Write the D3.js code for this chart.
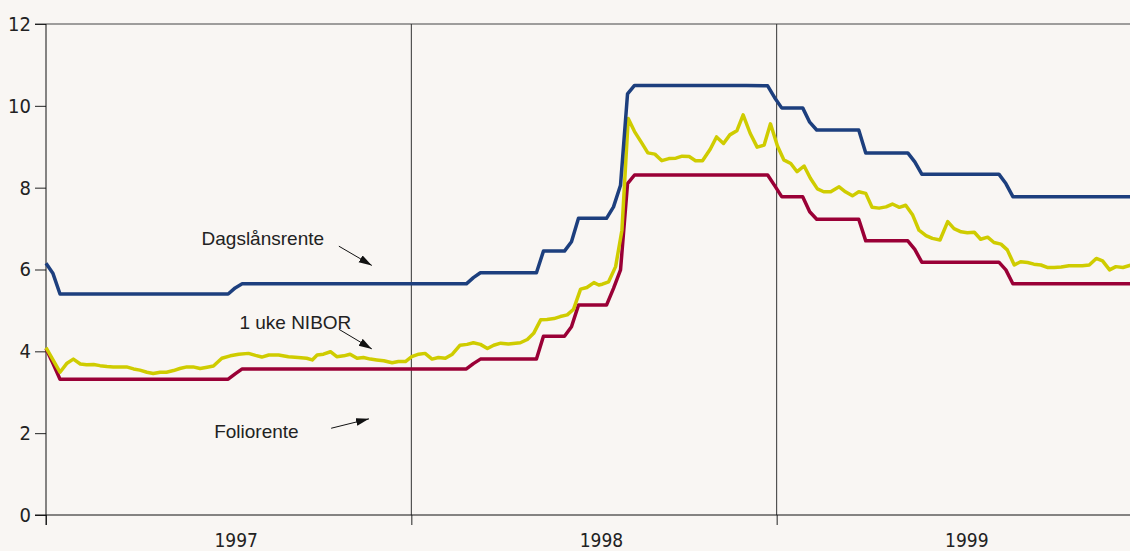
<!DOCTYPE html>
<html>
<head>
<meta charset="utf-8">
<script src="https://cdn.jsdelivr.net/npm/d3@7"></script>
<style>
  body { margin: 0; background: #f9f6f3; }
  svg { display: block; }
  .tick text { font-family: "Liberation Sans Narrow", "DejaVu Sans Condensed", sans-serif; font-stretch: condensed; font-size: 20px; fill: #222; }
  .year { font-family: "Liberation Sans Narrow", "DejaVu Sans Condensed", sans-serif; font-stretch: condensed; font-size: 19px; fill: #222; }
  .lbl { font-family: "Liberation Sans", Arial, sans-serif; font-size: 19px; fill: #222; }
</style>
</head>
<body>
<div id="chart"></div>
<script>
"use strict"

// weeks since 1 Jan 1997, rate in percent
const dagslanrente = [
  [0, 6.15], [1, 5.9], [2, 5.4], [26, 5.4], [27, 5.55], [28, 5.65],
  [60, 5.65], [61, 5.8], [62, 5.92], [70, 5.92], [71, 6.45], [74, 6.45],
  [75, 6.68], [76, 7.25], [80, 7.25], [81, 7.53], [82, 8.06], [83, 10.29],
  [84, 10.5], [100, 10.5], [103, 10.49], [104, 10.2], [105, 9.95], [108, 9.95],
  [109, 9.6], [110, 9.41], [116, 9.41], [117, 8.85], [123, 8.85], [124, 8.63],
  [125, 8.33], [136, 8.33], [137, 8.1], [138, 7.78], [155, 7.78]
];

const foliorente = [
  [0, 4.07], [1, 3.7], [2, 3.32], [26, 3.32], [27, 3.45], [28, 3.57],
  [60, 3.57], [61, 3.7], [62, 3.81], [70, 3.81], [71, 4.37], [74, 4.37],
  [75, 4.6], [76, 5.13], [80, 5.13], [81, 5.54], [82, 5.99], [83, 8.1],
  [84, 8.31], [103, 8.31], [104, 8.05], [105, 7.78], [108, 7.78], [109, 7.41],
  [110, 7.23], [116, 7.23], [117, 6.7], [123, 6.7], [124, 6.49], [125, 6.18],
  [136, 6.18], [137, 5.99], [138, 5.65], [155, 5.65]
];

const nibor1uke = [
  [0, 4.09], [2, 3.49], [3, 3.71], [3.9, 3.81], [4.9, 3.69], [5.8, 3.67],
  [6.8, 3.68], [7.7, 3.65], [8.7, 3.63], [9.6, 3.62], [11.5, 3.62], [12.5, 3.57],
  [13.4, 3.54], [14.4, 3.49], [15.3, 3.46], [16.3, 3.49], [17.2, 3.49], [18.2, 3.53],
  [19.1, 3.58], [20.1, 3.62], [21, 3.62], [22, 3.58], [23, 3.61], [23.9, 3.64],
  [25.1, 3.83], [26.3, 3.89], [27.5, 3.93], [28.9, 3.95], [29.9, 3.9], [30.8, 3.86],
  [31.8, 3.91], [33.2, 3.91], [34.6, 3.87], [36, 3.85], [37.2, 3.83], [38, 3.79],
  [38.7, 3.91], [39.6, 3.93], [40.6, 3.99], [41.5, 3.87], [42.5, 3.89], [43.4, 3.93],
  [44.4, 3.83], [45.3, 3.85], [46.3, 3.81], [47.2, 3.79], [48.2, 3.77], [49.4, 3.72],
  [50.3, 3.75], [51.3, 3.75], [52.2, 3.87], [53.2, 3.93], [54.1, 3.95], [55.1, 3.81],
  [56, 3.85], [57, 3.83], [58, 3.93], [59.1, 4.15], [60.1, 4.17], [61, 4.21],
  [62, 4.17], [63, 4.07], [63.9, 4.15], [64.9, 4.2], [66, 4.18], [67.7, 4.21],
  [68.7, 4.29], [69.6, 4.44], [70.6, 4.77], [71.5, 4.78], [72.5, 4.8], [73.4, 4.85],
  [74.4, 4.89], [75.3, 5.03], [76.3, 5.52], [77.2, 5.56], [78.2, 5.68], [78.9, 5.62],
  [79.4, 5.64], [80.3, 5.7], [81.3, 6.07], [82.2, 6.96], [83.1, 9.69], [84, 9.37],
  [85, 9.1], [85.9, 8.85], [86.9, 8.82], [87.9, 8.66], [88.9, 8.71], [89.9, 8.72],
  [90.8, 8.77], [91.8, 8.76], [92.7, 8.66], [93.7, 8.66], [94.8, 8.94], [95.7, 9.24],
  [96.7, 9.08], [97.6, 9.29], [98.6, 9.39], [99.5, 9.78], [100.5, 9.33], [101.5, 8.99],
  [102.5, 9.04], [103.4, 9.56], [104.4, 9.02], [105.3, 8.68], [106.3, 8.59], [107.2, 8.39],
  [108.2, 8.53], [109.1, 8.23], [110.1, 7.97], [111, 7.9], [112, 7.9], [113.2, 8.02],
  [114.1, 7.9], [115.1, 7.8], [116, 7.9], [117, 7.86], [117.9, 7.52], [118.9, 7.5],
  [119.9, 7.53], [120.8, 7.6], [121.8, 7.52], [122.7, 7.57], [123.7, 7.33], [124.6, 6.96],
  [125.6, 6.83], [126.5, 6.76], [127.6, 6.72], [128.7, 7.17], [129.6, 7.0], [130.6, 6.92],
  [131.5, 6.9], [132.5, 6.91], [133.4, 6.74], [134.4, 6.79], [135.3, 6.66], [136.3, 6.62],
  [137.2, 6.48], [138.2, 6.11], [139.1, 6.19], [140.1, 6.17], [141, 6.13], [142, 6.11],
  [142.9, 6.05], [143.9, 6.05], [144.9, 6.06], [146, 6.09], [147, 6.09], [147.9, 6.09],
  [148.9, 6.11], [149.9, 6.27], [150.8, 6.21], [151.8, 5.99], [152.7, 6.07], [153.7, 6.05],
  [154.9, 6.11]
];

const yTicks = [0, 2, 4, 6, 8, 10, 12];
const years = [1997, 1998, 1999];

// labels and arrows, in [week, rate]
const labels = [
  { text: "Dagslånsrente", at: [22.2, 6.6], from: [41.8, 6.57], to: [46.5, 6.1] },
  { text: "1 uke NIBOR", at: [27.6, 4.55], from: [41.8, 4.54], to: [46.5, 4.06] },
  { text: "Foliorente", at: [24.0, 1.87], from: [40.7, 2.12], to: [46.1, 2.35] }
];

const svgWidth = 1130;
const svgHeight = 551;

const start = new Date(1997, 0, 1);
const weekDate = w => new Date(+start + w * 7 * 864e5);

const x = d3.scaleTime()
  .domain([start, new Date(2000, 0, 1)])
  .range([46, 1142]);

const y = d3.scaleLinear()
  .domain([0, 12])
  .range([515, 24]);

const svg = d3.select("#chart").append("svg")
  .attr("width", svgWidth)
  .attr("height", svgHeight);

// arrow head
svg.append("defs").append("marker")
  .attr("id", "head")
  .attr("markerUnits", "userSpaceOnUse")
  .attr("markerWidth", 14)
  .attr("markerHeight", 10)
  .attr("refX", 13)
  .attr("refY", 4)
  .attr("orient", "auto")
  .append("path")
  .attr("d", "M0,0 L13,4 L0,8 Z")
  .attr("fill", "#111");

// top line
svg.append("line")
  .attr("x1", 35).attr("x2", svgWidth)
  .attr("y1", y(12)).attr("y2", y(12))
  .attr("stroke", "#444").attr("stroke-width", 1);

// year dividers
svg.selectAll(".divider")
  .data(years.slice(1))
  .enter().append("line")
  .attr("class", "divider")
  .attr("x1", d => x(new Date(d, 0, 1)))
  .attr("x2", d => x(new Date(d, 0, 1)))
  .attr("y1", y(12))
  .attr("y2", y(0))
  .attr("stroke", "#333");

// y axis
const yAxis = d3.axisLeft(y).tickValues(yTicks).tickSize(11).tickPadding(4);
svg.append("g")
  .attr("transform", "translate(46,0)")
  .call(yAxis)
  .call(g => g.select(".domain").remove())
  .call(g => g.selectAll(".tick line").attr("stroke", "#222"));

svg.append("line")
  .attr("x1", 46).attr("x2", 46)
  .attr("y1", y(12)).attr("y2", y(0) + 10)
  .attr("stroke", "#111");

// x axis
const xAxis = d3.axisBottom(x)
  .tickValues(years.map(d => new Date(d, 0, 1)))
  .tickSize(10)
  .tickFormat("");
svg.append("g")
  .attr("transform", "translate(0," + y(0) + ")")
  .call(xAxis)
  .call(g => g.select(".domain").remove())
  .call(g => g.selectAll(".tick line").attr("stroke", "#222"));

svg.append("line")
  .attr("x1", 35).attr("x2", svgWidth)
  .attr("y1", y(0)).attr("y2", y(0))
  .attr("stroke", "#111");

svg.selectAll(".year")
  .data(years)
  .enter().append("text")
  .attr("class", "year")
  .attr("x", d => x(new Date(d, 6, 10)))
  .attr("y", 547)
  .attr("text-anchor", "middle")
  .text(d => d);

// series
const line = d3.line()
  .x(d => x(weekDate(d[0])))
  .y(d => y(d[1]));

const series = [
  { data: foliorente, color: "#9a0036" },
  { data: nibor1uke, color: "#cfcc00" },
  { data: dagslanrente, color: "#1d3f7e" }
];

svg.selectAll(".series")
  .data(series)
  .enter().append("path")
  .attr("class", "series")
  .attr("d", d => line(d.data))
  .attr("fill", "none")
  .attr("stroke", d => d.color)
  .attr("stroke-width", 3.5)
  .attr("stroke-linejoin", "round");

// labels with arrows
svg.selectAll(".lbl")
  .data(labels)
  .enter().append("text")
  .attr("class", "lbl")
  .attr("x", d => x(weekDate(d.at[0])))
  .attr("y", d => y(d.at[1]))
  .text(d => d.text);

svg.selectAll(".arrow")
  .data(labels)
  .enter().append("line")
  .attr("class", "arrow")
  .attr("x1", d => x(weekDate(d.from[0])))
  .attr("y1", d => y(d.from[1]))
  .attr("x2", d => x(weekDate(d.to[0])))
  .attr("y2", d => y(d.to[1]))
  .attr("stroke", "#111")
  .attr("stroke-width", 1)
  .attr("marker-end", "url(#head)");
</script>
</body>
</html>
